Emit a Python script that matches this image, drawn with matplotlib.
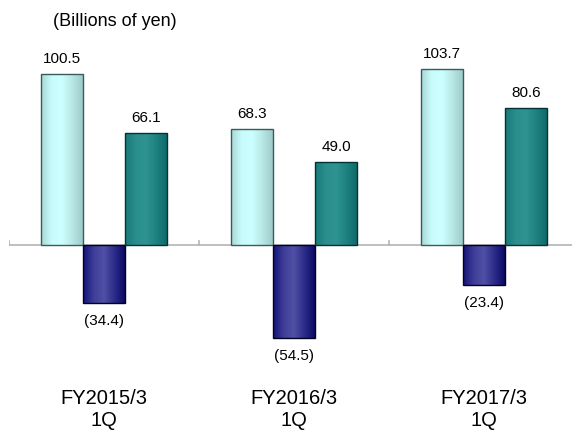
import numpy as np
import matplotlib.pyplot as plt
from matplotlib.colors import LinearSegmentedColormap

plt.rcParams['font.family'] = ['Liberation Sans', 'DejaVu Sans']

categories = ['FY2015/3\n1Q', 'FY2016/3\n1Q', 'FY2017/3\n1Q']
series_a = [100.5, 68.3, 103.7]
series_b = [-34.4, -54.5, -23.4]
series_c = [66.1, 49.0, 80.6]

def fmt(v):
    return '({:.1f})'.format(-v) if v < 0 else '{:.1f}'.format(v)

# horizontal gradients for the cylinder look of each series
styles = [
    (['#a6d8d6', '#c8fbfb', '#ccffff', '#b8e8e6', '#9ecccc'], '#3c5a5a'),
    (['#14147a', '#3e3e98', '#5050a6', '#2c2c8a', '#0c0c66'], '#000020'),
    (['#1a7a78', '#2a8e8c', '#2e9391', '#1e8280', '#0e6c6a'], '#003434'),
]

fig = plt.figure(figsize=(5.72, 4.30), dpi=100)
ax = fig.add_axes([9 / 572, 0, 1 - 9 / 572, 1])

px_per_unit = 1.70
zero_px = 430 - 245
ax.set_ylim(-zero_px / px_per_unit, (430 - zero_px) / px_per_unit)
ax.set_xlim(-0.5, -0.5 + 563 / 190)
ax.axis('off')

width = 0.221
x = np.arange(len(categories))
offsets = [-width, 0, width]

for series, off, (cols, edge) in zip([series_a, series_b, series_c], offsets, styles):
    cmap = LinearSegmentedColormap.from_list('g', cols)
    grad = np.linspace(0, 1, 64).reshape(1, -1)
    bars = ax.bar(x + off, series, width, facecolor='none', edgecolor=edge,
                  linewidth=1.0, zorder=3)
    for b, v in zip(bars, series):
        x0 = b.get_x()
        y0, y1 = sorted([0, v])
        im = ax.imshow(grad, cmap=cmap, aspect='auto', extent=[x0, x0 + width, y0, y1],
                       zorder=2, interpolation='bilinear')
        im.set_clip_path(b)
        if v >= 0:
            ax.text(x0 + width / 2, v + 8.8, fmt(v), ha='center', va='center', fontsize=11)
        else:
            ax.text(x0 + width / 2, v - 10.6, fmt(v), ha='center', va='center', fontsize=11)

# zero line with small category dividers
ax.axhline(0, color='#b4b4b4', linewidth=1.2, zorder=1)
for t in [-0.5, 0.5, 1.5]:
    ax.plot([t, t], [0, 2.5], color='#b4b4b4', linewidth=1.2, zorder=1)

for xi, cat in zip(x, categories):
    ax.text(xi, -96.8, cat, ha='center', va='center', fontsize=14.5, linespacing=1.2)

fig.text(115 / 572, 1 - 22 / 430, '(Billions of yen)', ha='center', va='center', fontsize=13)

plt.savefig('out.png', dpi=100)
